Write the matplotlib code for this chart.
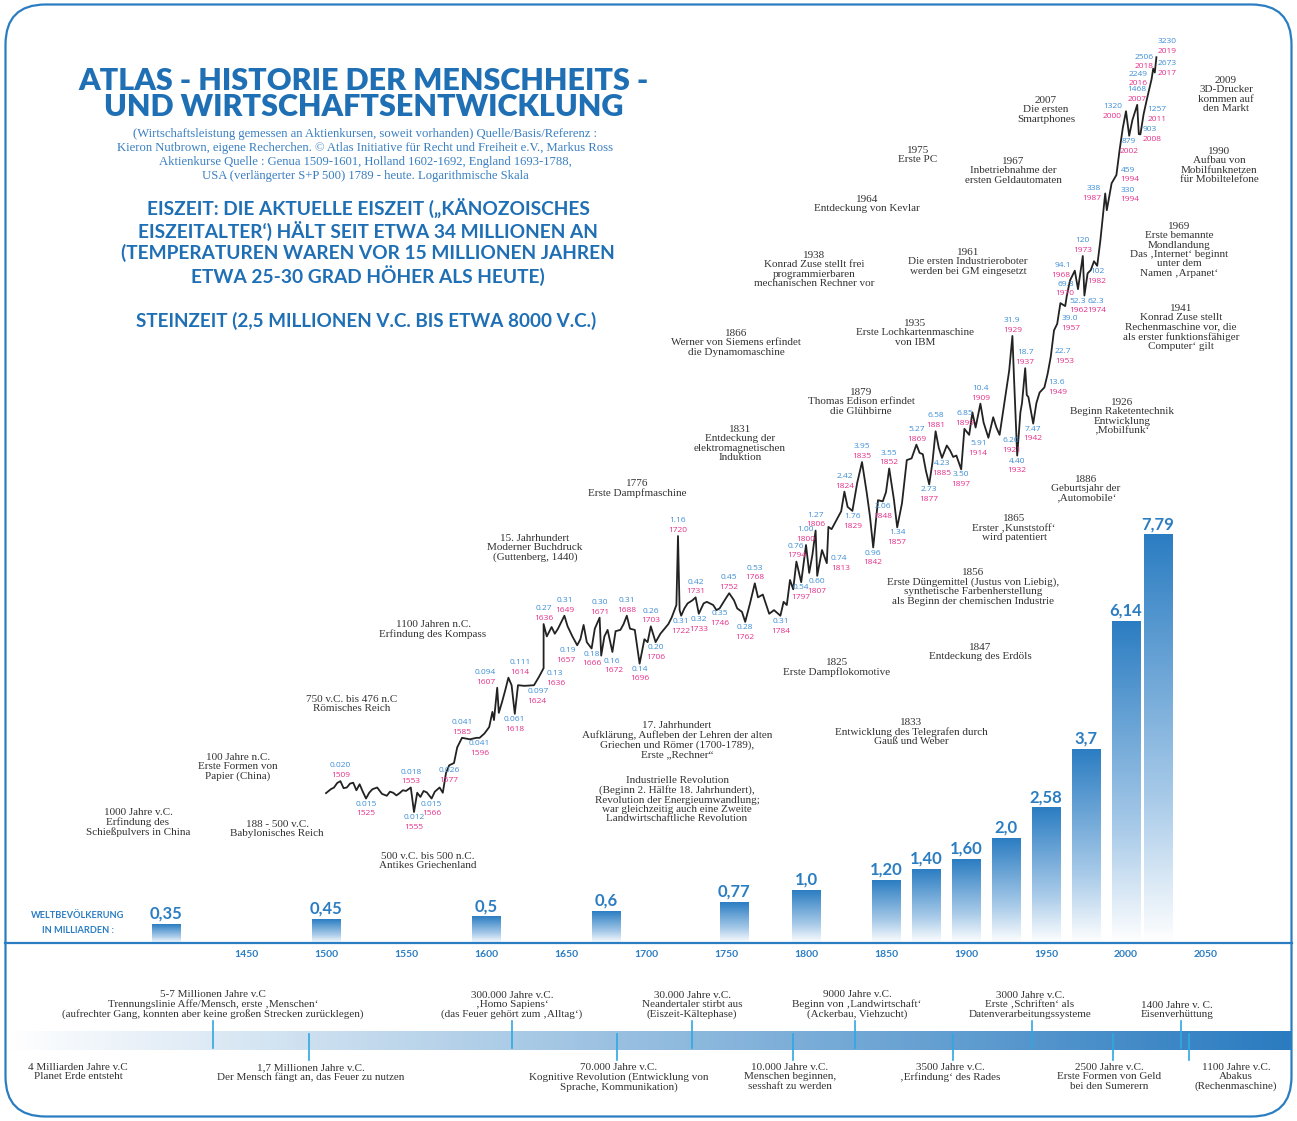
import numpy as np
import matplotlib.pyplot as plt
from matplotlib.colors import LinearSegmentedColormap
from matplotlib.patches import FancyBboxPatch

W, H = 1297, 1121
BLUE = "#1f6fb5"
BAR_BLUE = "#2b7dc2"
LBL_BLUE = "#3d8ed6"
LBL_PINK = "#e6308a"
TICK_CYAN = "#30a8e0"
SERIF = ["Liberation Serif", "DejaVu Serif"]
SANS = ["Lato", "DejaVu Sans"]

# ---- data -------------------------------------------------------------
# world population (billions)
pop_years = [1400, 1500, 1600, 1675, 1755, 1800, 1850, 1875, 1900, 1925, 1950, 1975, 2000, 2020]
pop_values = [0.35, 0.45, 0.5, 0.6, 0.77, 1.0, 1.20, 1.40, 1.60, 2.0, 2.58, 3.7, 6.14, 7.79]
pop_labels = ["0,35", "0,45", "0,5", "0,6", "0,77", "1,0", "1,20", "1,40", "1,60",
              "2,0", "2,58", "3,7", "6,14", "7,79"]

# stock index (log scale)
price_years = [1500, 1503, 1505, 1507, 1509, 1511, 1513, 1515, 1517, 1519, 1521, 1523,
               1525, 1527, 1529, 1532, 1535, 1538, 1540, 1542, 1544, 1546, 1548, 1550,
               1553, 1555, 1557, 1559, 1561, 1563, 1566, 1568, 1571, 1573, 1575, 1577,
               1580, 1582, 1585, 1590, 1594, 1596, 1599, 1602, 1604, 1605, 1607, 1608,
               1610, 1612, 1614, 1616, 1618, 1620, 1624, 1630, 1633, 1636, 1636, 1638,
               1641, 1643, 1645, 1649, 1651, 1654, 1657, 1659, 1661, 1663, 1666, 1668,
               1671, 1672, 1674, 1676, 1679, 1681, 1684, 1686, 1688, 1690, 1693, 1696,
               1699, 1701, 1703, 1706, 1709, 1711, 1714, 1716, 1719, 1720, 1721, 1722,
               1724, 1726, 1729, 1731, 1733, 1736, 1738, 1742, 1744, 1746, 1750, 1752,
               1755, 1757, 1760, 1762, 1765, 1768, 1770, 1773, 1777, 1780, 1784, 1786,
               1788, 1790, 1792, 1794, 1797, 1800, 1802, 1804, 1806, 1807, 1810, 1813,
               1814, 1816, 1819, 1822, 1824, 1826, 1829, 1832, 1835, 1838, 1840, 1842,
               1845, 1848, 1850, 1852, 1855, 1857, 1860, 1863, 1866, 1869, 1871, 1873,
               1875, 1877, 1879, 1881, 1883, 1885, 1888, 1890, 1892, 1894, 1897, 1899,
               1902, 1904, 1906, 1909, 1911, 1914, 1917, 1919, 1921, 1924, 1927, 1929,
               1930, 1932, 1934, 1935, 1937, 1938, 1939, 1942, 1944, 1946, 1949, 1951,
               1953, 1955, 1957, 1959, 1962, 1963, 1965, 1968, 1970, 1973, 1974, 1976,
               1978, 1980, 1982, 1984, 1987, 1988, 1991, 1994, 1996, 1998, 2000, 2002,
               2004, 2007, 2008, 2009, 2011, 2013, 2016, 2017, 2018, 2019]
price_values = [0.0164, 0.0175, 0.018, 0.0194, 0.020, 0.0178, 0.018, 0.0192, 0.0195, 0.0172,
                0.019, 0.0168, 0.015, 0.0165, 0.0175, 0.018, 0.0162, 0.0157, 0.0168, 0.0165,
                0.0158, 0.0164, 0.0172, 0.017, 0.018, 0.012, 0.0165, 0.0154, 0.017, 0.0166,
                0.015, 0.0168, 0.018, 0.0165, 0.0229, 0.026, 0.027, 0.035, 0.041, 0.040,
                0.041, 0.041, 0.044, 0.049, 0.063, 0.055, 0.094, 0.062, 0.074, 0.09,
                0.111, 0.098, 0.061, 0.098, 0.097, 0.098, 0.112, 0.13, 0.27, 0.22,
                0.257, 0.23, 0.25, 0.31, 0.26, 0.22, 0.19, 0.21, 0.266, 0.2,
                0.18, 0.25, 0.30, 0.16, 0.22, 0.245, 0.17, 0.24, 0.245, 0.27,
                0.31, 0.25, 0.245, 0.14, 0.21, 0.2, 0.26, 0.20, 0.23, 0.245,
                0.27, 0.30, 0.37, 1.16, 0.34, 0.31, 0.35, 0.38, 0.40, 0.42,
                0.32, 0.38, 0.39, 0.37, 0.34, 0.35, 0.415, 0.45, 0.40, 0.35,
                0.33, 0.28, 0.38, 0.53, 0.42, 0.44, 0.32, 0.34, 0.31, 0.39,
                0.37, 0.56, 0.48, 0.76, 0.54, 1.00, 0.63, 0.85, 1.27, 0.60,
                0.92, 0.74, 1.35, 1.3, 1.51, 1.75, 2.42, 1.88, 1.76, 2.8,
                3.95, 2.36, 1.6, 0.96, 2.1, 2.06, 2.4, 3.55, 2.1, 1.34,
                2.0, 4.08, 4.2, 5.27, 4.6, 4.5, 3.4, 2.73, 3.9, 6.58,
                5.0, 4.23, 5.2, 4.8, 4.3, 4.4, 3.50, 6.85, 6.2, 9.0,
                7.0, 10.4, 7.6, 5.91, 8.3, 7.0, 6.20, 10.5, 18, 31.9,
                16, 4.40, 9.0, 10.5, 18.7, 12.0, 11.6, 7.47, 10.5, 12.5,
                13.6, 17.0, 22.7, 35, 39.0, 55, 52.3, 62, 80, 94.1,
                69.3, 120, 62.3, 90, 95, 110, 102, 156, 338, 256,
                400, 459, 695, 1000, 1320, 879, 1140, 1468, 903, 900,
                1257, 1600, 2249, 2673, 2506, 3230]

# labelled highs / lows: (value text, year text, label placement)
marks = [
    ("0.020", "1509", "a"), ("0.015", "1525", "b"), ("0.018", "1553", "a"),
    ("0.012", "1555", "b"), ("0.015", "1566", "b"), ("0.026", "1577", "b"),
    ("0.041", "1585", "a"), ("0.041", "1596", "b"), ("0.094", "1607", "al"),
    ("0.111", "1614", "ar"), ("0.061", "1618", "b"), ("0.097", "1624", "br"),
    ("0.13", "1636", "br"), ("0.27", "1636", "a"), ("0.31", "1649", "a"),
    ("0.19", "1657", "bl"), ("0.18", "1666", "b"), ("0.30", "1671", "a"),
    ("0.16", "1672", "br"), ("0.31", "1688", "a"), ("0.14", "1696", "b"),
    ("0.26", "1703", "a"), ("0.20", "1706", "b"), ("1.16", "1720", "a"),
    ("0.31", "1722", "b"), ("0.42", "1731", "a"), ("0.32", "1733", "b"),
    ("0.35", "1746", "b"), ("0.45", "1752", "a"), ("0.28", "1762", "b"),
    ("0.53", "1768", "a"), ("0.31", "1784", "b"), ("0.76", "1794", "a"),
    ("0.54", "1797", "b"), ("1.00", "1800", "a"), ("1.27", "1806", "a"),
    ("0.60", "1807", "b"), ("0.74", "1813", "r"), ("2.42", "1824", "a"),
    ("1.76", "1829", "b"), ("3.95", "1835", "a"), ("0.96", "1842", "b"),
    ("2.06", "1848", "b"), ("3.55", "1852", "a"), ("1.34", "1857", "b"),
    ("5.27", "1869", "a"), ("2.73", "1877", "b"), ("6.58", "1881", "a"),
    ("4.23", "1885", "b"), ("3.50", "1897", "b"), ("6.85", "1899", "a"),
    ("10.4", "1909", "a"), ("5.91", "1914", "bl"), ("6.20", "1921", "br"),
    ("31.9", "1929", "a"), ("4.40", "1932", "b"), ("18.7", "1937", "a"),
    ("7.47", "1942", "b"), ("13.6", "1949", "r"), ("22.7", "1953", "r"),
    ("39.0", "1957", "r"), ("52.3", "1962", "r"), ("94.1", "1968", "l"),
    ("69.3", "1970", "l"), ("120", "1973", "a"), ("62.3", "1974", "br"),
    ("102", "1982", "b"), ("338", "1987", "l"), ("330", "1994", "r"),
    ("459", "1994", "r"), ("1320", "2000", "l"), ("879", "2002", "b"),
    ("1468", "2007", "a"), ("903", "2008", "r"), ("1257", "2011", "r"),
    ("2249", "2016", "l"), ("2673", "2017", "r"), ("2506", "2018", "al"),
    ("3230", "2019", "ar"),
]

axis_years = [1450, 1500, 1550, 1600, 1650, 1700, 1750, 1800, 1850, 1900, 1950, 2000, 2050]

# ---- geometry of the original sheet (pixels) ---------------------------
X1500, PX_YEAR = 326, 1.6
BASE_Y = 943
BAR_PX = 52.4
ONE_Y, PX_DEC = 545, 139


def year_at(px):
    return 1500 + (px - X1500) / PX_YEAR


fig = plt.figure(figsize=(W / 100, H / 100), dpi=100)

# layout overlay in pixel units
lay = fig.add_axes([0, 0, 1, 1], zorder=0)
lay.set_axis_off()

# data axes: bars (linear) and index (log) share the year axis
ax = fig.add_axes([0, 1 - BASE_Y / H, 1, BASE_Y / H], zorder=1)
ax.patch.set_alpha(0)
axp = ax.twinx()
axp.patch.set_alpha(0)

bar_cmap = LinearSegmentedColormap.from_list(
    "bar", [(0, "#ffffff"), (0.35, "#a9cbe9"), (1, BAR_BLUE)])
grad = np.linspace(0, 1, 256).reshape(-1, 1)
bw = 18
for yr, v, lab in zip(pop_years, pop_values, pop_labels):
    ax.imshow(grad, extent=[yr - bw / 2, yr + bw / 2, 0, v], origin="lower",
              cmap=bar_cmap, aspect="auto", zorder=2)
    ax.annotate(lab, (yr, v), xytext=(0, 2), textcoords="offset points",
                ha="center", va="bottom", fontsize=12, fontweight="bold",
                color=BAR_BLUE, family=SANS)

ax.set_xlim(year_at(0), year_at(W))
ax.set_ylim(0, BASE_Y / BAR_PX)
for s in ["top", "right", "left"]:
    ax.spines[s].set_visible(False)
ax.spines["bottom"].set_bounds(year_at(5), year_at(1292))
ax.spines["bottom"].set_color(BAR_BLUE)
ax.spines["bottom"].set_linewidth(1.6)
ax.set_yticks([])
ax.set_xticks(axis_years)
ax.tick_params(axis="x", length=0, pad=5, labelsize=7.5, labelcolor=BAR_BLUE)
for t in ax.get_xticklabels():
    t.set_fontweight("bold")
    t.set_family(SANS)

axp.plot(price_years, price_values, color="#222222", lw=1.3, zorder=3)
axp.set_yscale("log")
axp.set_ylim(10 ** ((ONE_Y - BASE_Y) / PX_DEC), 10 ** (ONE_Y / PX_DEC))
axp.set_axis_off()

# placement: (value offset, year offset, ha, va)
offs = {
    "a": ((0, 8.5), (0, 1.5), "center", "bottom"),
    "al": ((-1, 8.5), (-1, 1.5), "right", "bottom"),
    "ar": ((1, 8.5), (1, 1.5), "left", "bottom"),
    "b": ((0, -1.5), (0, -8.5), "center", "top"),
    "bl": ((-1, -1.5), (-1, -8.5), "right", "top"),
    "br": ((2, -1.5), (2, -8.5), "left", "top"),
    "r": ((3, 3.5), (3, -3.5), "left", "center"),
    "l": ((-3, 3.5), (-3, -3.5), "right", "center"),
}
LBL_FONT = ["Open Sans", "DejaVu Sans"]
for vt, yt, side in marks:
    o1, o2, ha, va = offs[side]
    xy = (int(yt), float(vt))
    axp.annotate(vt, xy, xytext=o1, textcoords="offset points", ha=ha, va=va,
                 fontsize=6, color=LBL_BLUE, family=LBL_FONT)
    axp.annotate(yt, xy, xytext=o2, textcoords="offset points", ha=ha, va=va,
                 fontsize=6, color=LBL_PINK, family=LBL_FONT)

# ---- titles -----------------------------------------------------------
lay.text(364, 94, "ATLAS - HISTORIE DER MENSCHHEITS -\nUND WIRTSCHAFTSENTWICKLUNG",
         ha="center", va="center", fontsize=22, fontweight="heavy", color=BLUE,
         family=SANS, linespacing=0.95)
lay.text(365, 155,
         "(Wirtschaftsleistung gemessen an Aktienkursen, soweit vorhanden) Quelle/Basis/Referenz :\n"
         "Kieron Nutbrown, eigene Recherchen. © Atlas Initiative für Recht und Freiheit e.V., Markus Ross\n"
         "Aktienkurse Quelle : Genua 1509-1601, Holland 1602-1692, England 1693-1788,\n"
         "USA (verlängerter S+P 500) 1789 - heute. Logarithmische Skala",
         ha="center", va="center", fontsize=9.1, color="#3a7fc1", family=SERIF,
         linespacing=1.25)
lay.text(368, 242,
         "EISZEIT: DIE AKTUELLE EISZEIT („KÄNOZOISCHES\n"
         "EISZEITALTER‘) HÄLT SEIT ETWA 34 MILLIONEN AN\n"
         "(TEMPERATUREN WAREN VOR 15 MILLIONEN JAHREN\n"
         "ETWA 25-30 GRAD HÖHER ALS HEUTE)",
         ha="center", va="center", fontsize=13.8, fontweight="bold", color=BLUE,
         family=SANS, linespacing=1.18)
lay.text(366, 321, "STEINZEIT (2,5 MILLIONEN V.C. BIS ETWA 8000 V.C.)",
         ha="center", va="center", fontsize=13.6, fontweight="bold", color=BLUE, family=SANS)
lay.text(78, 923, "WELTBEVÖLKERUNG\nIN MILLIARDEN :", ha="center", va="center",
         fontsize=6.7, fontweight="bold", color=BAR_BLUE, family=SANS, linespacing=1.9)

# ---- event notes in the chart -----------------------------------------
notes = [
    (138, 808, "1000 Jahre v.C.\nErfindung des\nSchießpulvers in China"),
    (238, 753, "100 Jahre n.C.\nErste Formen von\nPapier (China)"),
    (277, 820, "188 - 500 v.C.\nBabylonisches Reich"),
    (428, 852, "500 v.C. bis 500 n.C.\nAntikes Griechenland"),
    (352, 695, "750 v.C. bis 476 n.C\nRömisches Reich"),
    (433, 620, "1100 Jahren n.C.\nErfindung des Kompass"),
    (535, 534, "15. Jahrhundert\nModerner Buchdruck\n(Guttenberg, 1440)"),
    (637, 479, "1776\nErste Dampfmaschine"),
    (677, 721, "17. Jahrhundert\nAufklärung, Aufleben der Lehren der alten\n"
               "Griechen und Römer (1700-1789),\nErste „Rechner“"),
    (677, 776, "Industrielle Revolution\n(Beginn 2. Hälfte 18. Jahrhundert),\n"
               "Revolution der Energieumwandlung;\nwar gleichzeitig auch eine Zweite\n"
               "Landwirtschaftliche Revolution"),
    (740, 425, "1831\nEntdeckung der\nelektromagnetischen\nInduktion"),
    (736, 329, "1866\nWerner von Siemens erfindet\ndie Dynamomaschine"),
    (814, 251, "1938\nKonrad Zuse stellt frei\nprogrammierbaren\nmechanischen Rechner vor"),
    (867, 195, "1964\nEntdeckung von Kevlar"),
    (918, 146, "1975\nErste PC"),
    (1013, 157, "1967\nInbetriebnahme der\nersten Geldautomaten"),
    (1046, 96, "2007\nDie ersten\nSmartphones"),
    (968, 248, "1961\nDie ersten Industrieroboter\nwerden bei GM eingesetzt"),
    (915, 319, "1935\nErste Lochkartenmaschine\nvon IBM"),
    (861, 388, "1879\nThomas Edison erfindet\ndie Glühbirne"),
    (1014, 514, "1865\nErster ‚Kunststoff‘\nwird patentiert"),
    (973, 568, "1856\nErste Düngemittel (Justus von Liebig),\n"
               "synthetische Farbenherstellung\nals Beginn der chemischen Industrie"),
    (980, 643, "1847\nEntdeckung des Erdöls"),
    (837, 658, "1825\nErste Dampflokomotive"),
    (911, 718, "1833\nEntwicklung des Telegrafen durch\nGauß und Weber"),
    (1086, 475, "1886\nGeburtsjahr der\n‚Automobile‘"),
    (1122, 398, "1926\nBeginn Raketentechnik\nEntwicklung\n‚Mobilfunk‘"),
    (1181, 304, "1941\nKonrad Zuse stellt\nRechenmaschine vor, die\n"
                "als erster funktionsfähiger\nComputer‘ gilt"),
    (1179, 222, "1969\nErste bemannte\nMondlandung\nDas ‚Internet‘ beginnt\n"
                "unter dem\nNamen ‚Arpanet‘"),
    (1219, 147, "1990\nAufbau von\nMobilfunknetzen\nfür Mobiltelefone"),
    (1226, 76, "2009\n3D-Drucker\nkommen auf\nden Markt"),
]
for x, y, s in notes:
    lay.text(x, y, s, ha="center", va="top", fontsize=8, color="#333333",
             family=SERIF, linespacing=1.05)

# ---- prehistory timeline ----------------------------------------------
band_cmap = LinearSegmentedColormap.from_list("band", ["#ffffff", "#2a7bc0"])
lay.imshow(np.linspace(0, 1, 256).reshape(1, -1), extent=[5, 1292, 1050, 1031],
           cmap=band_cmap, aspect="auto", zorder=1)

upper = [
    (213, 213, "5-7 Millionen Jahre v.C\nTrennungslinie Affe/Mensch, erste ‚Menschen‘\n"
               "(aufrechter Gang, konnten aber keine großen Strecken zurücklegen)"),
    (512, 512, "300.000 Jahre v.C.\n‚Homo Sapiens‘\n(das Feuer gehört zum ‚Alltag‘)"),
    (692, 692, "30.000 Jahre v.C.\nNeandertaler stirbt aus\n(Eiszeit-Kältephase)"),
    (855, 857, "9000 Jahre v.C.\nBeginn von ‚Landwirtschaft‘\n(Ackerbau, Viehzucht)"),
    (1032, 1030, "3000 Jahre v.C.\nErste ‚Schriften‘ als\nDatenverarbeitungssysteme"),
    (1181, 1177, "1400 Jahre v. C.\nEisenverhüttung"),
]
lower = [
    (None, 78, "4 Milliarden Jahre v.C\nPlanet Erde entsteht"),
    (309, 311, "1,7 Millionen Jahre v.C.\nDer Mensch fängt an, das Feuer zu nutzen"),
    (617, 619, "70.000 Jahre v.C.\nKognitive Revolution (Entwicklung von\nSprache, Kommunikation)"),
    (793, 790, "10.000 Jahre v.C.\nMenschen beginnen,\nsesshaft zu werden"),
    (953, 950, "3500 Jahre v.C.\n‚Erfindung‘ des Rades"),
    (1113, 1109, "2500 Jahre v.C.\nErste Formen von Geld\nbei den Sumerern"),
    (1189, 1236, "1100 Jahre v.C.\nAbakus\n(Rechenmaschine)"),
]

for x, tx, s in upper:
    lay.plot([x, x], [1021, 1048], color=TICK_CYAN, lw=1.2, zorder=2)
    lay.text(tx, 1019, s, ha="center", va="bottom", fontsize=8, color="#333333",
             family=SERIF, linespacing=1.05)
for x, tx, s in lower:
    if x is not None:
        lay.plot([x, x], [1034, 1060], color=TICK_CYAN, lw=1.2, zorder=2)
    lay.text(tx, 1063, s, ha="center", va="top", fontsize=8, color="#333333",
             family=SERIF, linespacing=1.05)

lay.set_xlim(0, W)
lay.set_ylim(H, 0)

# rounded frame
fig.patches.append(FancyBboxPatch((0.055, 0.045), 12.86, 11.12,
                                  boxstyle="round,pad=0,rounding_size=0.4",
                                  transform=fig.dpi_scale_trans, fill=False,
                                  ec=BAR_BLUE, lw=1.6))

fig.savefig("out.png", dpi=100)
